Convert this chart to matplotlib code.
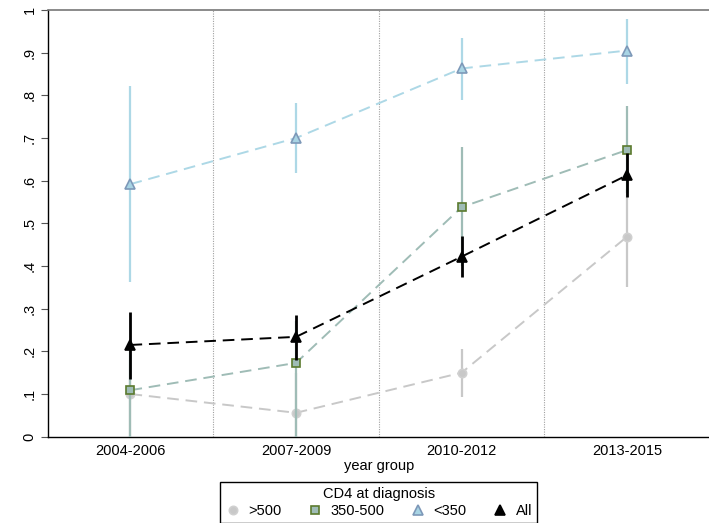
import matplotlib
matplotlib.use("Agg")
import matplotlib.pyplot as plt
from matplotlib.lines import Line2D

plt.rcParams['font.family'] = ['Liberation Sans', 'DejaVu Sans']

groups = ["2004-2006", "2007-2009", "2010-2012", "2013-2015"]
xpos = [1, 2, 3, 4]

# >500
gt500 = [0.100, 0.056, 0.150, 0.469]
gt500_lo = [0.0, 0.0, 0.094, 0.352]
gt500_hi = [0.180, 0.150, 0.205, 0.580]
# 350-500
mid = [0.109, 0.173, 0.538, 0.672]
mid_lo = [0.0, 0.0, 0.400, 0.570]
mid_hi = [0.200, 0.270, 0.678, 0.775]
# <350
lt350 = [0.592, 0.700, 0.863, 0.905]
lt350_lo = [0.363, 0.618, 0.789, 0.827]
lt350_hi = [0.822, 0.782, 0.935, 0.980]
# All
allv = [0.215, 0.234, 0.422, 0.613]
all_lo = [0.135, 0.180, 0.374, 0.562]
all_hi = [0.293, 0.285, 0.471, 0.665]

yticks = [0, 0.1, 0.2, 0.3, 0.4, 0.5, 0.6, 0.7, 0.8, 0.9, 1.0]
ytick_labels = ["0", ".1", ".2", ".3", ".4", ".5", ".6", ".7", ".8", ".9", "1"]

fig = plt.figure(figsize=(7.09, 5.23), dpi=100)
ax = fig.add_axes([47.7 / 709, 1 - 436.7 / 523, (710 - 47.7) / 709, (436.7 - 10) / 523])

series = [
    (">500", gt500, gt500_lo, gt500_hi, "#c8c8c8", "o", "#c8c8c8", "#d0d0d0", 6.0, 1.6),
    ("350-500", mid, mid_lo, mid_hi, "#9fbcb6", "s", "#9fbcb6", "#5b7a2e", 6.0, 1.6),
    ("<350", lt350, lt350_lo, lt350_hi, "#add8e6", "^", "#a8d4e4", "#7d98b8", 7.0, 1.6),
    ("All", allv, all_lo, all_hi, "#000000", "^", "#000000", "#000000", 7.5, 2.0),
]

for x in [1.5, 2.5, 3.5]:
    ax.axvline(x, color="#a0a0a0", linestyle=(0, (1, 1.2)), linewidth=0.8, zorder=1)

handles = []
for i, (name, v, lo, hi, col, mk, fc, ec, ms, elw) in enumerate(series):
    z = 2 + i * 2
    ax.vlines(xpos, lo, hi, colors=col, linewidth=elw, zorder=z)
    ax.plot(xpos, v, linestyle=(0, (6, 3.5)), color=col, linewidth=1.4, zorder=z)
    ax.plot(xpos, v, linestyle="none", marker=mk, markersize=ms,
            markerfacecolor=fc, markeredgecolor=ec, markeredgewidth=1.2, zorder=z + 1)
    handles.append(Line2D([], [], linestyle="none", marker=mk, markersize=ms,
                          markerfacecolor=fc, markeredgecolor=ec, markeredgewidth=1.2, label=name))

ax.set_xlim(0.5, 4.5)
ax.set_ylim(0, 1)
ax.set_xticks(xpos)
ax.set_xticklabels(groups, fontsize=10.5)
ax.set_yticks(yticks)
ax.set_yticklabels(ytick_labels, fontsize=10.5, rotation=90, va="center")
ax.tick_params(axis="x", length=0, pad=5)
ax.tick_params(axis="y", length=5, width=0.8, color="#555555", pad=3)
ax.spines["right"].set_visible(False)
ax.spines["top"].set_color("#777777")
ax.spines["top"].set_linewidth(1.2)
ax.spines["left"].set_linewidth(1.0)
ax.spines["bottom"].set_linewidth(1.0)
ax.set_xlabel("year group", fontsize=10.5, labelpad=1)

leg = fig.legend(handles=handles, loc="lower center", bbox_to_anchor=(378.7 / 709, -0.014),
                 ncol=4, title="CD4 at diagnosis", fontsize=10.5, title_fontsize=10.5,
                 frameon=True, fancybox=False, edgecolor="#000000", framealpha=1,
                 handlelength=1.0, handletextpad=0.6, columnspacing=1.75,
                 borderpad=0.35, labelspacing=0.2)
leg.get_frame().set_linewidth(1.0)

fig.savefig("out.png", dpi=100)
